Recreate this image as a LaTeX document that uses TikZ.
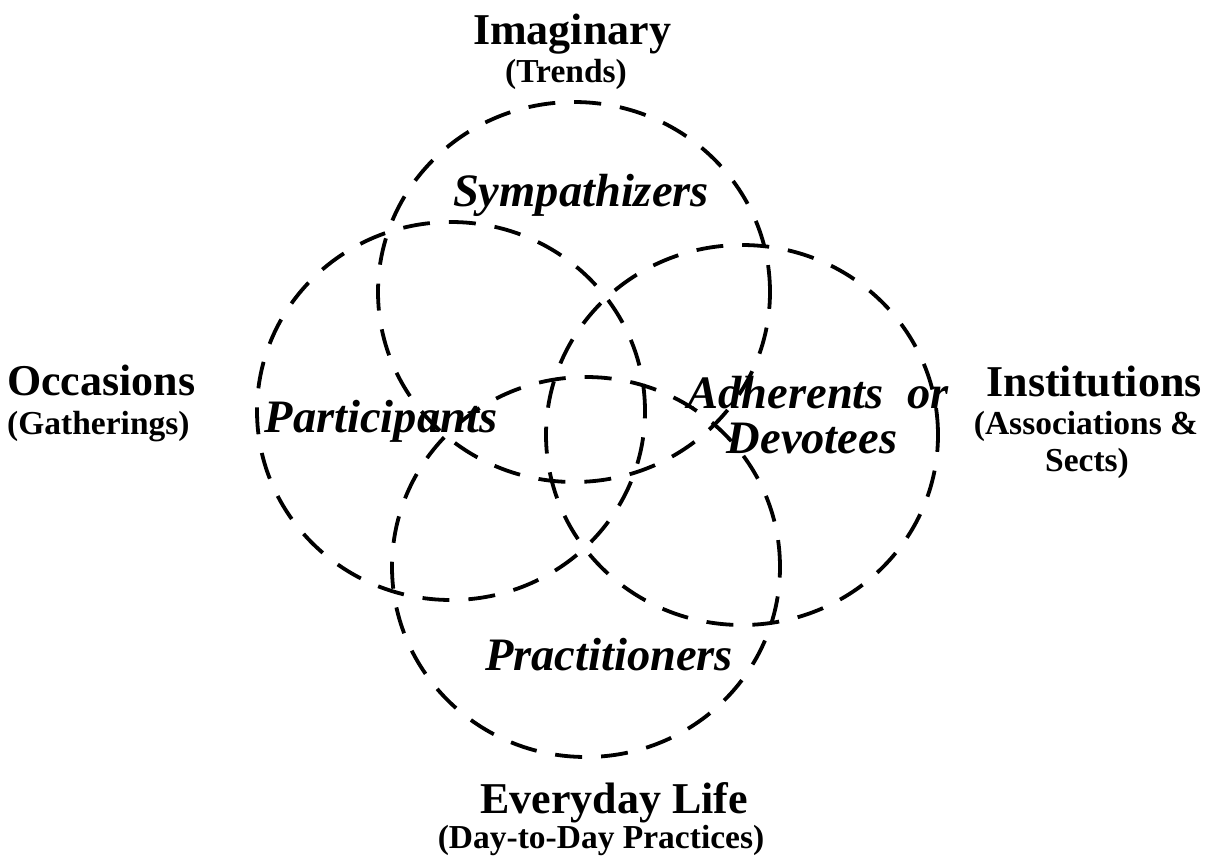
\documentclass[tikz,border=0pt]{standalone}
\usepackage{fontspec}
\setmainfont{Liberation Serif}
\begin{document}
\begin{tikzpicture}[x=1pt,y=-1pt,
  ring/.style={line width=3.8pt,dash pattern=on 27pt off 19pt},
  head/.style={inner sep=0pt,anchor=base,font=\fontsize{44}{44}\selectfont\bfseries},
  sub/.style={inner sep=0pt,anchor=base,font=\fontsize{33.5}{33.5}\selectfont\bfseries},
  lbl/.style={inner sep=0pt,anchor=base,font=\fontsize{46.5}{46.5}\selectfont\bfseries\itshape}]
\useasboundingbox (0,0) rectangle (1214,857);
% rings
\draw[ring] (574,292) ellipse [x radius=196pt, y radius=190pt];
\draw[ring] (451,411) ellipse [x radius=194pt, y radius=189pt];
\draw[ring] (742,435) ellipse [x radius=196pt, y radius=190pt];
\draw[ring] (586,567) ellipse [x radius=194pt, y radius=190pt];
% outer headings
\node[head] (imag) at (572,44) {Imaginary};
\node[sub] (trends) at (566,82) {(Trends)};
\node[head,anchor=base west] (occ) at (7,395) {Occasions};
\node[sub,anchor=base west] (gath) at (7,434) {(Gatherings)};
\node[head] (inst) at (1094,396) {Institutions};
\node[sub] (assoc) at (1086,434) {(Associations \&};
\node[sub] (sects) at (1087,471) {Sects)};
\node[head] (every) at (614,813) {Everyday Life};
\node[sub] (daily) at (601,848) {(Day-to-Day Practices)};
% inner labels
\node[lbl] (symp) at (581,206) {Sympathizers};
\node[lbl] (part) at (381,432) {Participants};
\node[lbl] (adh) at (818,408) {Adherents\ \ or};
\node[lbl] (dev) at (812,453) {Devotees};
\node[lbl] (prac) at (609,670) {Practitioners};
\end{tikzpicture}
\end{document}
